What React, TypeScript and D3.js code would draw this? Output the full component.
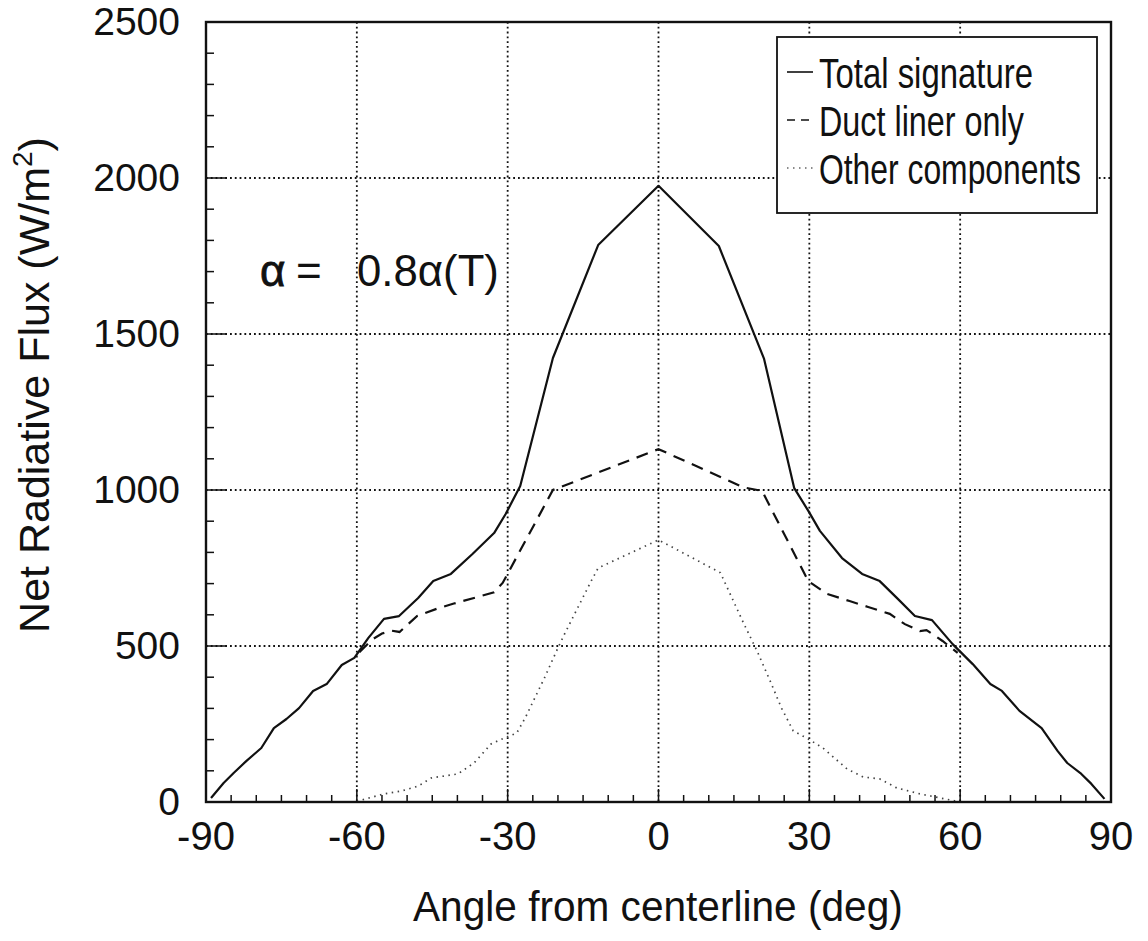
import React, { useEffect, useRef } from 'react';
import * as d3 from 'd3';

// Total signature
const totalAngles = [-89, -86.5, -84.5, -82, -79, -76.5, -74, -71.5, -68.7, -66, -63, -60.5, -57.7, -54.6, -51.6, -47.8, -44.8, -41.3, -37, -32.7, -30.4, -27.5, -21, -12, 0, 12, 21, 27, 29.8, 32.1, 36.5, 40.5, 44, 47.6, 51, 54.4, 58.5, 62.5, 66, 68.3, 71.8, 76.2, 79.4, 81.3, 84.1, 86.1, 88.7];
const totalValues = [13, 61, 93, 131, 173, 237, 266, 301, 356, 378, 439, 462, 526, 587, 596, 654, 708, 731, 795, 862, 923, 1013, 1423, 1785, 1975, 1782, 1420, 1006, 933, 869, 782, 731, 708, 651, 596, 583, 506, 442, 378, 356, 292, 237, 163, 125, 90, 58, 10];

// Duct liner only
const ductAngles = [-59.5, -57, -55, -53, -51.5, -48, -44, -40.7, -32.7, -31, -21, 0, 17, 20.6, 29.8, 33.5, 38, 41.7, 46, 49, 52, 53.3, 56.5, 59.5];
const ductValues = [480, 520, 540, 549, 545, 596, 620, 636, 672, 702, 1000, 1131, 1008, 997, 708, 667, 644, 625, 603, 570, 548, 551, 516, 478];

// Other components
const otherAngles = [-60, -54.6, -51.2, -47.8, -45.2, -39.9, -36.7, -33.3, -30.7, -28.2, -26.5, -22.7, -20, -18.7, -13.4, -12, 0, 12.3, 16.9, 19.6, 22.2, 24.5, 26.8, 29.8, 32.7, 37.5, 40.7, 44, 47.4, 52, 58.5, 60];
const otherValues = [2, 26, 35, 51, 77, 90, 125, 186, 205, 221, 270, 397, 494, 538, 708, 750, 840, 735, 574, 484, 388, 300, 228, 202, 173, 106, 80, 74, 45, 26, 5, 0];

const xTicks = [-90, -60, -30, 0, 30, 60, 90];
const yTicks = [0, 500, 1000, 1500, 2000, 2500];
const legendLabels = ['Total signature', 'Duct liner only', 'Other components'];

const App = () => {
  const ref = useRef<SVGSVGElement>(null);

  useEffect(() => {
    const width = 1148;
    const height = 941;
    const margin = { top: 22, right: 37, bottom: 139, left: 206 };
    const w = width - margin.left - margin.right;
    const h = height - margin.top - margin.bottom;
    const font = 'Liberation Sans, Arial, sans-serif';

    const svg = d3.select(ref.current);
    svg.selectAll('*').remove();

    // squeeze a text horizontally so it spans the wanted width
    const squeeze = (sel: any, x0: number, y0: number, target: number) => {
      const node = sel.node() as SVGTextElement;
      const len = node.getComputedTextLength();
      const k = len > 0 ? target / len : 1;
      sel.attr('x', 0).attr('y', 0)
        .attr('transform', `translate(${x0},${y0}) scale(${k},1)`);
    };

    const g = svg.append('g').attr('transform', `translate(${margin.left},${margin.top})`);

    const x = d3.scaleLinear().domain([-90, 90]).range([0, w]);
    const y = d3.scaleLinear().domain([0, 2500]).range([h, 0]);

    // grid
    g.selectAll('.vgrid')
      .data(xTicks.slice(1, -1))
      .enter().append('line')
      .attr('x1', d => x(d)).attr('x2', d => x(d))
      .attr('y1', 0).attr('y2', h)
      .attr('stroke', '#111').attr('stroke-width', 1.8)
      .attr('stroke-dasharray', '1.8,3');
    g.selectAll('.hgrid')
      .data(yTicks.slice(1, -1))
      .enter().append('line')
      .attr('x1', 0).attr('x2', w)
      .attr('y1', d => y(d)).attr('y2', d => y(d))
      .attr('stroke', '#111').attr('stroke-width', 1.8)
      .attr('stroke-dasharray', '1.8,3');

    // minor + major ticks
    const xMinor = d3.range(-90, 91, 5);
    g.selectAll('.xtick')
      .data(xMinor)
      .enter().append('line')
      .attr('x1', d => x(d)).attr('x2', d => x(d))
      .attr('y1', h).attr('y2', d => h - (d % 30 === 0 ? 13 : 7))
      .attr('stroke', '#111').attr('stroke-width', 1.5);
    const yMinor = d3.range(0, 2501, 100);
    g.selectAll('.ytick')
      .data(yMinor)
      .enter().append('line')
      .attr('x1', 0).attr('x2', d => (d % 500 === 0 ? 20 : 8))
      .attr('y1', d => y(d)).attr('y2', d => y(d))
      .attr('stroke', '#111').attr('stroke-width', 1.5);

    // lines
    const line = d3.line<[number, number]>()
      .x(d => x(d[0]))
      .y(d => y(d[1]));

    const other = otherAngles.map((a, i) => [a, otherValues[i]] as [number, number]);
    const duct = ductAngles.map((a, i) => [a, ductValues[i]] as [number, number]);
    const total = totalAngles.map((a, i) => [a, totalValues[i]] as [number, number]);

    g.append('path').attr('d', line(other)!)
      .attr('fill', 'none').attr('stroke', '#444').attr('stroke-width', 1.7)
      .attr('stroke-dasharray', '1.5,4.5');
    g.append('path').attr('d', line(duct)!)
      .attr('fill', 'none').attr('stroke', '#111').attr('stroke-width', 2.2)
      .attr('stroke-dasharray', '12,8');
    g.append('path').attr('d', line(total)!)
      .attr('fill', 'none').attr('stroke', '#111').attr('stroke-width', 2.2)
      .attr('stroke-linejoin', 'round');

    // frame
    g.append('rect')
      .attr('x', 0).attr('y', 0).attr('width', w).attr('height', h)
      .attr('fill', 'none').attr('stroke', '#111').attr('stroke-width', 2.4);

    // tick labels
    g.selectAll('.xlab')
      .data(xTicks)
      .enter().append('text')
      .attr('x', d => x(d)).attr('y', h + 48)
      .attr('text-anchor', 'middle')
      .attr('font-family', font)
      .attr('font-size', 40)
      .attr('fill', '#111')
      .text(d => String(d));
    g.selectAll('.ylab')
      .data(yTicks)
      .enter().append('text')
      .attr('x', -26).attr('y', d => y(d) + 13)
      .attr('text-anchor', 'end')
      .attr('font-family', font)
      .attr('font-size', 39)
      .attr('fill', '#111')
      .text(d => String(d));

    // axis titles
    const xt = svg.append('text')
      .attr('font-family', font)
      .attr('font-size', 42)
      .attr('fill', '#111')
      .text('Angle from centerline (deg)');
    squeeze(xt, 413, 921, 490);
    const yt = svg.append('text')
      .attr('transform', 'translate(49,385) rotate(-90)')
      .attr('text-anchor', 'middle')
      .attr('font-family', font)
      .attr('font-size', 43)
      .attr('fill', '#111');
    yt.append('tspan').text('Net Radiative Flux (W/m');
    yt.append('tspan').attr('font-size', 28).attr('dy', -17).text('2');
    yt.append('tspan').attr('dy', 17).text(')');

    // annotation
    const ann = svg.append('g').attr('font-family', font).attr('font-size', 44).attr('fill', '#111');
    ann.append('text').attr('x', 260).attr('y', 286)
      .attr('stroke', '#111').attr('stroke-width', 0.8).text('α');
    ann.append('text').attr('x', 296).attr('y', 286).text('=');
    const rhs = ann.append('text').text('0.8α(T)');
    squeeze(rhs, 357, 286, 142);

    // legend
    const lg = svg.append('g');
    lg.append('rect')
      .attr('x', 777).attr('y', 37).attr('width', 320).attr('height', 176)
      .attr('fill', 'white').attr('stroke', '#111').attr('stroke-width', 1.8);
    const styles = [
      { dash: null, color: '#111', width: 1.6 },
      { dash: '8,6', color: '#111', width: 1.6 },
      { dash: '1.5,4.5', color: '#666', width: 1.4 },
    ];
    const labelWidths = [214, 205, 262];
    legendLabels.forEach((lab, i) => {
      const cy = 72 + i * 48;
      const ln = lg.append('line')
        .attr('x1', 787).attr('x2', 813)
        .attr('y1', cy).attr('y2', cy)
        .attr('stroke', styles[i].color).attr('stroke-width', styles[i].width);
      if (styles[i].dash) ln.attr('stroke-dasharray', styles[i].dash);
      const t = lg.append('text')
        .attr('font-family', font)
        .attr('font-size', 42)
        .attr('fill', '#111')
        .text(lab);
      squeeze(t, 819, cy + 16, labelWidths[i]);
    });
  }, []);

  return (
    <div className="App">
      <svg ref={ref} width={1148} height={941}
        style={{ position: 'absolute', left: 0, top: 0, background: 'white' }} />
    </div>
  );
};

export default App;
